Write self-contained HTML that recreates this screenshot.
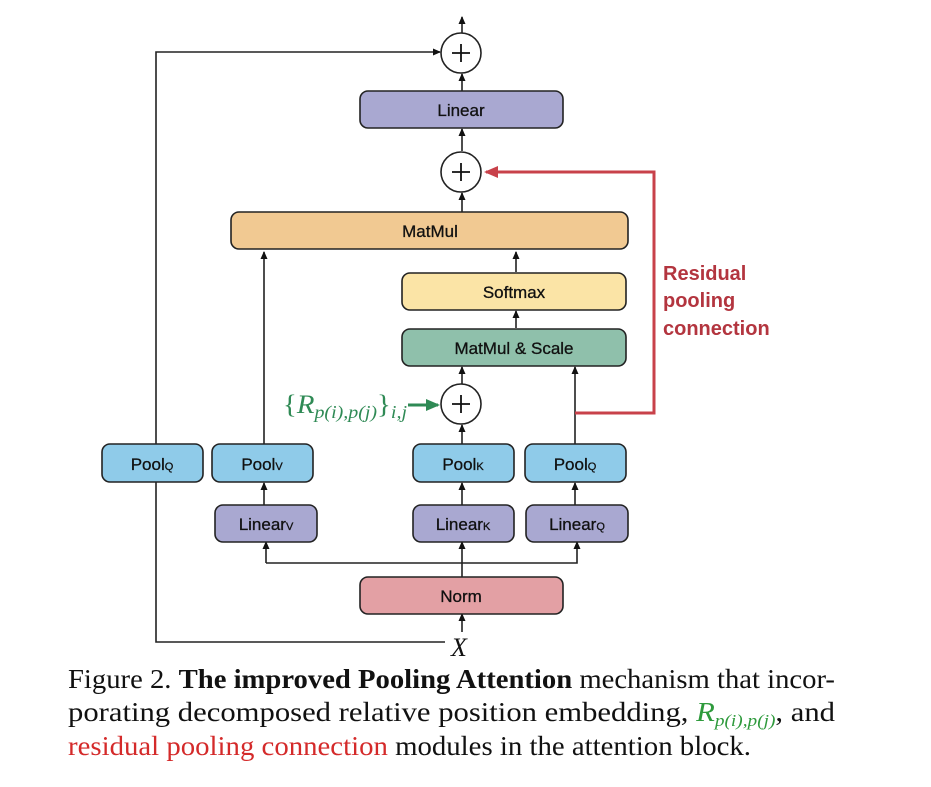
<!DOCTYPE html>
<html><head><meta charset="utf-8"><style>
html,body{margin:0;padding:0;background:#fff;}
svg{display:block}
.b{stroke:#222;stroke-width:1.6}
.t{font-family:"Liberation Sans",sans-serif;font-size:17px;fill:#111;text-anchor:middle;stroke:#111;stroke-width:0.3}
.s{font-size:11px}
</style></head><body>
<svg width="931" height="787" viewBox="0 0 931 787" xmlns="http://www.w3.org/2000/svg">
<defs>
<marker id="a" markerWidth="8" markerHeight="8" refX="7" refY="4" orient="auto" markerUnits="userSpaceOnUse"><path d="M0,0.5 L8,4 L0,7.5z" fill="#111"/></marker>
<marker id="r" markerWidth="14" markerHeight="14" refX="12" refY="7" orient="auto" markerUnits="userSpaceOnUse"><path d="M0,1 L14,7 L0,13z" fill="#c8414a"/></marker>
<marker id="g" markerWidth="14" markerHeight="14" refX="12" refY="7" orient="auto" markerUnits="userSpaceOnUse"><path d="M0,1 L14,7 L0,13z" fill="#2f8a55"/></marker>
</defs>
<g fill="none" stroke="#222" stroke-width="1.6">
<line x1="462" y1="33" x2="462" y2="17" marker-end="url(#a)"/>
<polyline points="156,482 156,52 440,52" marker-end="url(#a)"/>
<polyline points="445,642 156,642 156,482"/>
<line x1="462" y1="91" x2="462" y2="74" marker-end="url(#a)"/>
<line x1="462" y1="151" x2="462" y2="129" marker-end="url(#a)"/>
<line x1="462" y1="212" x2="462" y2="193" marker-end="url(#a)"/>
<line x1="264" y1="444" x2="264" y2="252" marker-end="url(#a)"/>
<line x1="516" y1="272" x2="516" y2="252" marker-end="url(#a)"/>
<line x1="516" y1="328" x2="516" y2="311" marker-end="url(#a)"/>
<line x1="462" y1="384" x2="462" y2="367" marker-end="url(#a)"/>
<line x1="575" y1="444" x2="575" y2="367" marker-end="url(#a)"/>
<line x1="462" y1="444" x2="462" y2="425" marker-end="url(#a)"/>
<line x1="264" y1="505" x2="264" y2="483" marker-end="url(#a)"/>
<line x1="462" y1="505" x2="462" y2="483" marker-end="url(#a)"/>
<line x1="575" y1="505" x2="575" y2="483" marker-end="url(#a)"/>
<polyline points="266,563 266,542" marker-end="url(#a)"/>
<polyline points="266,563 577,563 577,542" marker-end="url(#a)"/>
<line x1="462" y1="577" x2="462" y2="542" marker-end="url(#a)"/>
<line x1="462" y1="632" x2="462" y2="614" marker-end="url(#a)"/>
</g>
<polyline points="575,413 654,413 654,172 486,172" fill="none" stroke="#c8414a" stroke-width="3" marker-end="url(#r)"/>
<line x1="408" y1="405" x2="438" y2="405" stroke="#2f8a55" stroke-width="3" marker-end="url(#g)"/>
<g class="b">
<circle cx="461" cy="53" r="20" fill="#fff"/>
<circle cx="461" cy="172" r="20" fill="#fff"/>
<circle cx="461" cy="404" r="20" fill="#fff"/>
</g>
<g stroke="#111" stroke-width="1.8">
<line x1="452" y1="53" x2="470" y2="53"/><line x1="461" y1="44" x2="461" y2="62"/>
<line x1="452" y1="172" x2="470" y2="172"/><line x1="461" y1="163" x2="461" y2="181"/>
<line x1="452" y1="404" x2="470" y2="404"/><line x1="461" y1="395" x2="461" y2="413"/>
</g>
<g class="b">
<rect x="360" y="91" width="203" height="37" rx="8" fill="#a9a8d1"/>
<rect x="231" y="212" width="397" height="37" rx="8" fill="#f1c992"/>
<rect x="402" y="273" width="224" height="37" rx="8" fill="#fbe4a6"/>
<rect x="402" y="329" width="224" height="37" rx="8" fill="#8fc0ab"/>
<rect x="102" y="444" width="101" height="38" rx="8" fill="#8fcbe9"/>
<rect x="212" y="444" width="101" height="38" rx="8" fill="#8fcbe9"/>
<rect x="413" y="444" width="101" height="38" rx="8" fill="#8fcbe9"/>
<rect x="525" y="444" width="101" height="38" rx="8" fill="#8fcbe9"/>
<rect x="215" y="505" width="102" height="37" rx="8" fill="#a9a8d1"/>
<rect x="413" y="505" width="101" height="37" rx="8" fill="#a9a8d1"/>
<rect x="526" y="505" width="102" height="37" rx="8" fill="#a9a8d1"/>
<rect x="360" y="577" width="203" height="37" rx="8" fill="#e3a0a4"/>
</g>
<text class="t" x="461" y="116">Linear</text>
<text class="t" x="430" y="237">MatMul</text>
<text class="t" x="514" y="298">Softmax</text>
<text class="t" x="514" y="354">MatMul &amp; Scale</text>
<text class="t" x="152" y="470">Pool<tspan class="s">Q</tspan></text>
<text class="t" x="262" y="470">Pool<tspan class="s">V</tspan></text>
<text class="t" x="463" y="470">Pool<tspan class="s">K</tspan></text>
<text class="t" x="575" y="470">Pool<tspan class="s">Q</tspan></text>
<text class="t" x="266" y="530">Linear<tspan class="s">V</tspan></text>
<text class="t" x="463" y="530">Linear<tspan class="s">K</tspan></text>
<text class="t" x="577" y="530">Linear<tspan class="s">Q</tspan></text>
<text class="t" x="461" y="602">Norm</text>
<text x="451" y="656" font-family="Liberation Serif, serif" font-style="italic" font-size="26" fill="#111">X</text>
<text x="283" y="413" font-family="Liberation Serif, serif" font-size="26" fill="#2f8a55" textLength="124" lengthAdjust="spacingAndGlyphs">{<tspan font-style="italic">R</tspan><tspan font-style="italic" font-size="18" dy="5">p(i),p(j)</tspan><tspan dy="-5">}</tspan><tspan font-style="italic" font-size="18" dy="5">i,j</tspan></text>
<g font-family="Liberation Sans, sans-serif" font-weight="bold" font-size="20" fill="#b3353f">
<text x="663" y="280">Residual</text><text x="663" y="307">pooling</text><text x="663" y="335">connection</text>
</g>
<g font-family="Liberation Serif, serif" font-size="27" fill="#111">
<text x="68" y="688" textLength="767" lengthAdjust="spacingAndGlyphs">Figure 2. <tspan font-weight="bold">The improved Pooling Attention</tspan> mechanism that incor-</text>
<text x="68" y="721" textLength="767" lengthAdjust="spacingAndGlyphs">porating decomposed relative position embedding, <tspan fill="#2e9a3c" font-style="italic">R</tspan><tspan fill="#2e9a3c" font-style="italic" font-size="17" dy="5">p(i),p(j)</tspan><tspan dy="-5">, and</tspan></text>
<text x="68" y="755" textLength="683" lengthAdjust="spacingAndGlyphs"><tspan fill="#d42a2a">residual pooling connection</tspan> modules in the attention block.</text>
</g>
</svg>
</body></html>
